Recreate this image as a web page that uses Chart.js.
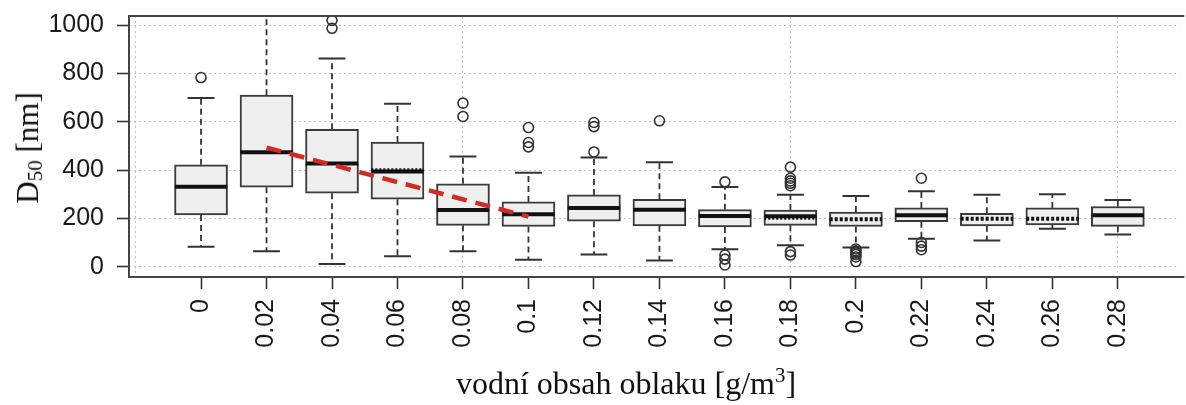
<!DOCTYPE html>
<html>
<head>
<meta charset="utf-8">
<script src="https://cdn.jsdelivr.net/npm/chart.js@4.4.1/dist/chart.umd.min.js"></script>
<style>
  html, body { margin: 0; padding: 0; background: #fff; overflow: hidden; }
  #wrap { position: relative; width: 1186px; height: 405px; }
  canvas { position: absolute; left: 0; top: 0; }
  .ttl { position: absolute; font-family: 'Liberation Serif', 'Times New Roman', serif; color: #111; white-space: nowrap; line-height: 32px; }
  #ytitle { left: 28px; top: 148px; font-size: 31px; transform: translate(-50%, -50%) rotate(-90deg); }
  #xtitle { left: 626px; top: 367px; font-size: 32px; transform: translateX(-50%); }
  .ttl sub { font-size: 0.68em; vertical-align: -0.18em; line-height: 0; }
  .ttl sup { font-size: 0.65em; vertical-align: 0.6em; line-height: 0; }
</style>
</head>
<body>
<div id="wrap">
  <canvas id="c" width="1186" height="405"></canvas>
  <div class="ttl" id="ytitle">D<sub>50</sub> [nm]</div>
  <div class="ttl" id="xtitle">vodní obsah oblaku [g/m<sup>3</sup>]</div>
</div>
<script>
// ---- data ----
const categories = ['0','0.02','0.04','0.06','0.08','0.1','0.12','0.14','0.16','0.18','0.2','0.22','0.24','0.26','0.28'];
const q1         = [214, 329, 304, 279, 171, 166, 188, 169, 164, 171, 166, 186, 169, 173, 167];
const q3         = [422, 710, 569, 516, 343, 268, 297, 279, 236, 234, 226, 243, 221, 243, 249];
const medians    = [331, 474, 427, 394, 234, 217, 243, 236, 210, 209, 196, 213, 198, 198, 213];
const means      = [null, null, null, 401, null, null, null, null, null, 200, null, null, null, null, null];
const whiskerLow = [82, 64, 11, 43, 64, 28, 50, 25, 72, 88, 79, 115, 108, 157, 133];
const whiskerHigh= [698, 1045, 862, 675, 456, 389, 452, 432, 330, 298, 293, 312, 298, 300, 276];
const outliers   = [[783], [], [987, 1020], [], [677, 622], [576, 514, 496], [597, 580, 475], [604],
                    [351, 48, 31, 7], [412, 366, 355, 345, 335, 62, 48], [73, 65, 57, 50, 40, 21],
                    [366, 100, 85, 70], [], [], []];
const dottedMedian = [false, false, false, false, false, false, false, false, false, false, true, false, true, true, false];
const trendX = [1, 5];
const trendY = [493, 207];
const yTicks = [0, 200, 400, 600, 800, 1000];
const xGridAt = [-1, 4, 9, 14];

// ---- derived tables for the library ----
const CAP = 0.205, HALF = 0.40;
const boxData = categories.map((c, i) => ({ x: i, y: [q1[i], q3[i]] }));
const whiskerData = [];
const capData = [];
categories.forEach((c, i) => {
  whiskerData.push({ x: i, y: q3[i] }, { x: i, y: whiskerHigh[i] }, { x: i, y: null },
                   { x: i, y: q1[i] }, { x: i, y: whiskerLow[i] }, { x: i, y: null });
  capData.push({ x: i - CAP, y: whiskerHigh[i] }, { x: i + CAP, y: whiskerHigh[i] }, { x: i + CAP, y: null },
               { x: i - CAP, y: whiskerLow[i] }, { x: i + CAP, y: whiskerLow[i] }, { x: i + CAP, y: null });
});
const medSolid = [], medDotted = [], meanData = [];
categories.forEach((c, i) => {
  const tgt = dottedMedian[i] ? medDotted : medSolid;
  tgt.push({ x: i - HALF, y: medians[i] }, { x: i + HALF, y: medians[i] }, { x: i + HALF, y: null });
  if (means[i] !== null) meanData.push({ x: i - HALF, y: means[i] }, { x: i + HALF, y: means[i] }, { x: i + HALF, y: null });
});
const outlierData = [];
outliers.forEach((arr, i) => arr.forEach(v => outlierData.push({ x: i, y: v })));
const trendData = trendX.map((x, k) => ({ x: x, y: trendY[k] }));

const frame = {
  id: 'frame',
  afterDatasetsDraw(chart) {
    const a = chart.chartArea, ctx = chart.ctx;
    ctx.save();
    ctx.strokeStyle = '#444';
    ctx.lineWidth = 2;
    ctx.beginPath();
    ctx.moveTo(a.right + 5, a.top);
    ctx.lineTo(a.left, a.top);
    ctx.lineTo(a.left, a.bottom);
    ctx.lineTo(a.right + 5, a.bottom);
    ctx.stroke();
    ctx.restore();
  }
};

const lineBase = { type: 'line', pointRadius: 0, spanGaps: false, fill: false, tension: 0 };
const tickFont = { family: "'Liberation Sans', Arial, sans-serif", size: 25 };
const noPadX = s => { s.height = 128; s.paddingLeft = 0; s.paddingRight = 0; };

new Chart(document.getElementById('c'), {
  type: 'bar',
  data: {
    datasets: [
      { ...lineBase, data: trendData, borderColor: '#d42a24', borderWidth: 4.5, borderDash: [15, 9], order: 0 },
      { type: 'scatter', data: outlierData, pointRadius: 5, pointBorderWidth: 1.6, pointBorderColor: '#333',
        pointBackgroundColor: 'rgba(0,0,0,0)', order: 1 },
      { ...lineBase, data: meanData, borderColor: '#111', borderWidth: 3, borderDash: [2, 2], order: 2 },
      { ...lineBase, data: medSolid, borderColor: '#111', borderWidth: 4, order: 3 },
      { ...lineBase, data: medDotted, borderColor: '#111', borderWidth: 4, borderDash: [3, 2], order: 3 },
      { ...lineBase, data: capData, borderColor: '#333', borderWidth: 2, order: 4 },
      { type: 'bar', data: boxData, backgroundColor: '#efefef', borderColor: '#3a3a3a', borderWidth: 2,
        borderSkipped: false, barThickness: 53, order: 5 },
      { ...lineBase, data: whiskerData, borderColor: '#333', borderWidth: 1.8, borderDash: [6, 4], order: 6 }
    ]
  },
  options: {
    responsive: false,
    animation: false,
    events: [],
    layout: { padding: { top: 16, left: 0, right: 0, bottom: 0 } },
    plugins: { legend: { display: false }, tooltip: { enabled: false } },
    scales: {
      x: {
        type: 'linear', position: 'bottom', min: -1.1, max: 14.94, offset: false,
        afterBuildTicks: s => { s.ticks = categories.map((c, i) => ({ value: i })); },
        afterFit: noPadX,
        ticks: { callback: v => categories[Math.round(v)], minRotation: 90, maxRotation: 90, autoSkip: false,
                 font: tickFont, color: '#1a1a1a', padding: 10 },
        grid: { offset: false, drawOnChartArea: false, drawTicks: true, tickLength: 12, tickColor: '#333', tickWidth: 1.6 },
        border: { display: false }
      },
      xg: {
        type: 'linear', position: 'top', min: -1.1, max: 14.94, offset: false,
        afterBuildTicks: s => { s.ticks = xGridAt.map(v => ({ value: v })); },
        afterFit: s => { s.height = 0; s.paddingLeft = 0; s.paddingRight = 0; },
        ticks: { display: false },
        grid: { offset: false, drawTicks: false, color: '#c4c4c4', lineWidth: 1 },
        border: { display: false, dash: [2, 3] }
      },
      y: {
        type: 'linear', min: -43, max: 1038,
        afterBuildTicks: s => { s.ticks = yTicks.map(v => ({ value: v })); },
        afterFit: s => { s.width = 129; s.paddingTop = 0; s.paddingBottom = 0; },
        ticks: { font: tickFont, color: '#1a1a1a', padding: 13, callback: v => String(v) },
        grid: { color: '#c4c4c4', lineWidth: 1, tickLength: 12, tickColor: '#333', tickWidth: 1.6, tickBorderDash: [] },
        border: { display: false, dash: [2, 3] }
      }
    }
  },
  plugins: [frame]
});
</script>
</body>
</html>
